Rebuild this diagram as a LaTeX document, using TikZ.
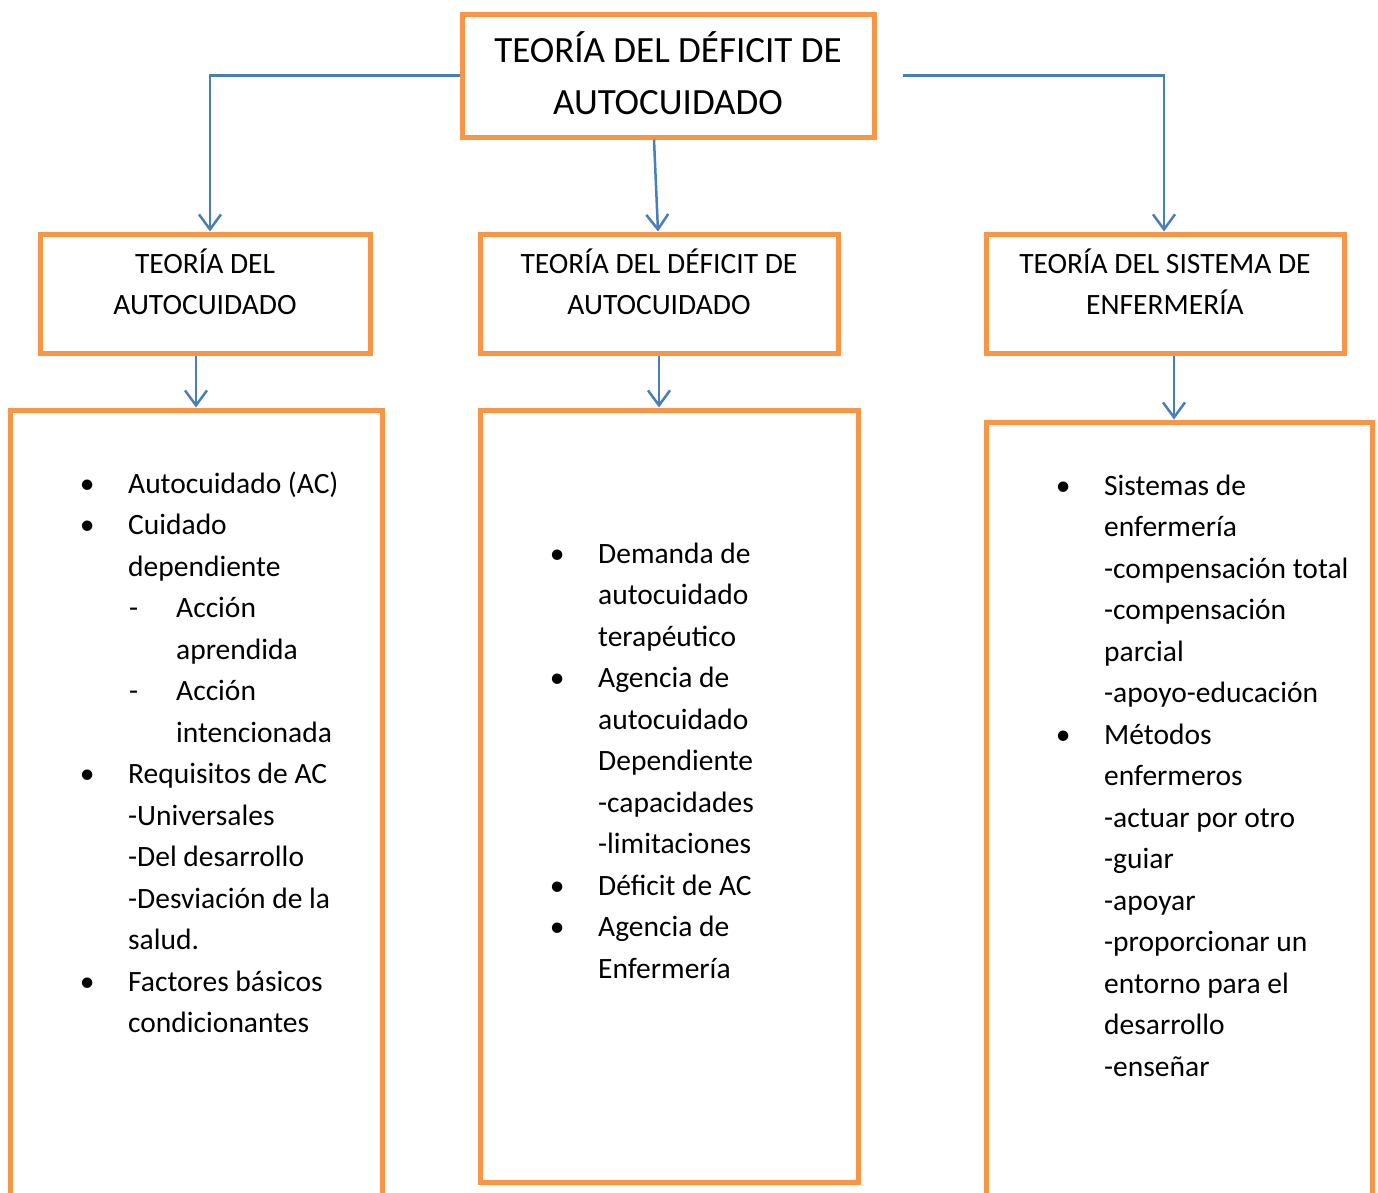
\documentclass[tikz,border=0pt]{standalone}
\usepackage{fontspec}
\setmainfont{Carlito}
\usetikzlibrary{arrows.meta}
\definecolor{naranja}{HTML}{F79646}
\definecolor{azul}{HTML}{4A7EBB}
\newcommand{\bl}{\makebox[0pt]{\textbullet}}
\newcommand{\dsh}{\makebox[48pt][l]{\hspace{1pt}-}}

\begin{document}
\begin{tikzpicture}[x=1pt,y=-1pt,
	caja/.style={draw=naranja,line width=5pt,inner sep=0pt},
	flecha/.style={draw=azul,line width=2.5pt,-{Straight Barb[length=15pt,width=22pt,line width=2.5pt]}},
	txt/.style={inner sep=0pt,anchor=base,font=\fontsize{29.5}{41.5}\selectfont},
	lista/.style={inner sep=0pt,anchor=base west,font=\fontsize{29.5}{41.5}\selectfont}]
\useasboundingbox (0,0) rectangle (1378,1192);
% cajas
\node [caja,minimum width=412pt,minimum height=123pt] (c0) at (668,75.5) {};
\node [caja,minimum width=330pt,minimum height=119pt] (c1) at (205,293.5) {};
\node [caja,minimum width=358pt,minimum height=119pt] (c2) at (659,293.5) {};
\node [caja,minimum width=358pt,minimum height=119pt] (c3) at (1165,293.5) {};
\node [caja,minimum width=372pt,minimum height=800pt] (b1) at (196,810) {};
\node [caja,minimum width=378pt,minimum height=772pt] (b2) at (669,796) {};
\node [caja,minimum width=386pt,minimum height=788pt] (b3) at (1179,816) {};
% titulos
\node [txt,font=\fontsize{37}{52}\selectfont] (x0) at (668,62)
	{\begin{tabular}[t]{@{}c@{}}TEORÍA DEL DÉFICIT DE\\AUTOCUIDADO\end{tabular}};
\node [txt] (x1) at (205,273) {\begin{tabular}[t]{@{}c@{}}TEORÍA DEL\\AUTOCUIDADO\end{tabular}};
\node [txt] (x2) at (659,273) {\begin{tabular}[t]{@{}c@{}}TEORÍA DEL DÉFICIT DE\\AUTOCUIDADO\end{tabular}};
\node [txt] (x3) at (1165,273) {\begin{tabular}[t]{@{}c@{}}TEORÍA DEL SISTEMA DE\\ENFERMERÍA\end{tabular}};
% listas
\node [lista] (y1) at (87,493) {\begin{tabular}[t]{@{}p{41pt}@{}l@{}}
	\bl & Autocuidado (AC)\\
	\bl & Cuidado\\
	& dependiente\\
	& \dsh Acción\\
	& \hspace*{48pt}aprendida\\
	& \dsh Acción\\
	& \hspace*{48pt}intencionada\\
	\bl & Requisitos de AC\\
	& -Universales\\
	& -Del desarrollo\\
	& -Desviación de la\\
	& salud.\\
	\bl & Factores básicos\\
	& condicionantes
\end{tabular}};
\node [lista] (y2) at (557,563) {\begin{tabular}[t]{@{}p{41pt}@{}l@{}}
	\bl & Demanda de\\
	& autocuidado\\
	& terapéutico\\
	\bl & Agencia de\\
	& autocuidado\\
	& Dependiente\\
	& -capacidades\\
	& -limitaciones\\
	\bl & Déficit de AC\\
	\bl & Agencia de\\
	& Enfermería
\end{tabular}};
\node [lista] (y3) at (1063,495) {\begin{tabular}[t]{@{}p{41pt}@{}l@{}}
	\bl & Sistemas de\\
	& enfermería\\
	& -compensación total\\
	& -compensación\\
	& parcial\\
	& -apoyo-educación\\
	\bl & Métodos\\
	& enfermeros\\
	& -actuar por otro\\
	& -guiar\\
	& -apoyar\\
	& -proporcionar un\\
	& entorno para el\\
	& desarrollo\\
	& -enseñar
\end{tabular}};
\draw [flecha]
(c0.west) -| ([xshift=5pt]c1.north);
\draw [flecha]
([xshift=-14pt]c0.south) -- ([xshift=-1pt]c2.north);
\draw [flecha]
([xshift=26pt]c0.east) -| ([xshift=-1pt]c3.north);
\draw [flecha]
(c1.south -| b1.north) -- (b1.north);
\draw [flecha]
(c2.south) -- (c2.south |- b2.north);
\draw [flecha]
([xshift=9pt]c3.south) -- ([xshift=9pt]c3.south |- b3.north);
\end{tikzpicture}
\end{document}
